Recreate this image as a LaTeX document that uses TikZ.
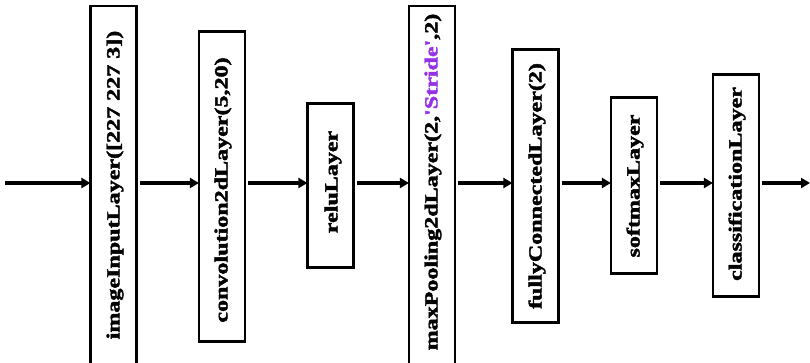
\documentclass[tikz,border=0pt]{standalone}
\usepackage{fontspec}
\setmainfont{Liberation Serif}
\newfontface\layerfont{Liberation Serif Bold}[FakeBold=2, Ligatures=TeXOff]
\usetikzlibrary{arrows.meta}
\definecolor{stridecol}{RGB}{150,50,230}
\tikzset{
  layerbox/.style={draw=black, line width=2.2pt, fill=white, inner sep=0pt},
  layertext/.style={rotate=90, inner sep=0pt, font=\fontsize{18.5}{18.5}\layerfont},
  arr/.style={line width=3.3pt, -{Triangle[length=9pt,width=10pt]}, shorten >=-1pt},
  boxarr/.style={arr, shorten <=2pt}
}
\newcommand{\stretchtext}[1]{\scalebox{1.3}[1]{#1}}
\begin{document}
\begin{tikzpicture}[x=1pt,y=-1pt]
\useasboundingbox (0,0) rectangle (810,362);
\fill[white] (0,0) rectangle (810,362);
% boxes
\node[layerbox, minimum width=46pt, minimum height=366pt] (b1) at (113.5,189) {};
\node[layerbox, minimum width=46pt, minimum height=310pt] (b2) at (222,186.5) {};
\node[layerbox, minimum width=46pt, minimum height=164pt] (b3) at (330.5,185.5) {};
\node[layerbox, minimum width=46pt, minimum height=366pt] (b4) at (432,189) {};
\node[layerbox, minimum width=46pt, minimum height=273pt] (b5) at (535.5,186) {};
\node[layerbox, minimum width=46pt, minimum height=176pt] (b6) at (634,185.5) {};
\node[layerbox, minimum width=46pt, minimum height=222pt] (b7) at (736,185.5) {};
% texts
\node[layertext] (t1) at (115,185) {\stretchtext{imageInputLayer([227 227 3])}};
\node[layertext] (t2) at (223,190) {\stretchtext{convolution2dLayer(5,20)}};
\node[layertext] (t3) at (333,182) {\stretchtext{reluLayer}};
\node[layertext] (t4) at (433,182) {\stretchtext{maxPooling2dLayer(2,\textcolor{stridecol}{'Stride'},2)}};
\node[layertext] (t5) at (537,186) {\stretchtext{fullyConnectedLayer(2)}};
\node[layertext] (t6) at (635,186) {\stretchtext{softmaxLayer}};
\node[layertext] (t7) at (737,184) {\stretchtext{classificationLayer}};
% arrows
\coordinate (ay) at (0,183);
\coordinate (in) at (5,183);
\coordinate (out) at (810,183);
\draw[arr] (in) -- (b1.west |- ay);
\draw[boxarr] (b1.east |- ay) -- (b2.west |- ay);
\draw[boxarr] (b2.east |- ay) -- (b3.west |- ay);
\draw[boxarr] (b3.east |- ay) -- (b4.west |- ay);
\draw[boxarr] (b4.east |- ay) -- (b5.west |- ay);
\draw[boxarr] (b5.east |- ay) -- (b6.west |- ay);
\draw[boxarr] (b6.east |- ay) -- (b7.west |- ay);
\draw[boxarr, shorten >=0pt] (b7.east |- ay) -- (out);
\end{tikzpicture}
\end{document}
